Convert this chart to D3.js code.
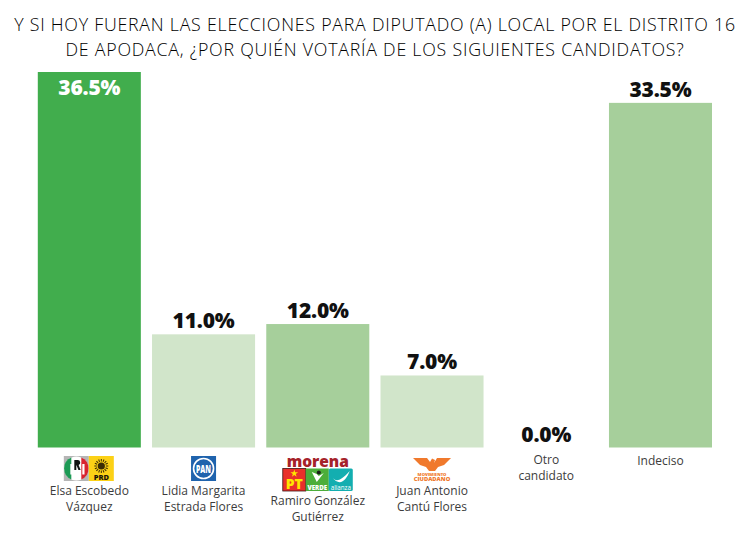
<!DOCTYPE html>
<html lang="es">
<head>
<meta charset="utf-8">
<script src="https://cdn.jsdelivr.net/npm/d3@7/dist/d3.min.js"></script>
<style>
  html, body { margin: 0; padding: 0; background: #fff; }
  svg { display: block; }
  text { font-family: "Open Sans", "Noto Sans", sans-serif; }
</style>
</head>
<body>
<svg id="chart" width="750" height="534"></svg>
<script>
const titleLines = [
  "Y SI HOY FUERAN LAS ELECCIONES PARA DIPUTADO (A) LOCAL POR EL DISTRITO 16",
  "DE APODACA, ¿POR QUIÉN VOTARÍA DE LOS SIGUIENTES CANDIDATOS?"
];
const candidates = ["elsa", "lidia", "ramiro", "juan", "otro", "indeciso"];
const values = [36.5, 11.0, 12.0, 7.0, 0.0, 33.5];
const barColors = ["#41ad4d", "#d1e5ca", "#a6cf9b", "#d1e5ca", "#d1e5ca", "#a6cf9b"];
const nameLines = [
  ["Elsa Escobedo", "Vázquez"],
  ["Lidia Margarita", "Estrada Flores"],
  ["Ramiro González", "Gutiérrez"],
  ["Juan Antonio", "Cantú Flores"],
  ["Otro", "candidato"],
  ["Indeciso"]
];
const nameOffsets = [491, 491, 501, 491, 460, 461];

const svg = d3.select("#chart");
const baseline = 447.5;

const x = d3.scaleBand().domain(candidates).range([32.2, 717.6]).paddingInner(0.098).paddingOuter(0.049);
const y = d3.scaleLinear().domain([0, 36.5]).range([baseline, 72]);

svg.selectAll("text.title").data(titleLines).join("text")
  .attr("class", "title")
  .attr("x", 375).attr("y", (d, i) => 31 + i * 25)
  .attr("text-anchor", "middle")
  .attr("font-size", 17.8)
  .attr("font-weight", 300)
  .attr("letter-spacing", 0.76)
  .attr("fill", "#000")
  .text(d => d);

svg.selectAll("rect.bar").data(candidates).join("rect")
  .attr("class", "bar")
  .attr("x", d => x(d))
  .attr("width", x.bandwidth())
  .attr("y", (d, i) => y(values[i]))
  .attr("height", (d, i) => baseline - y(values[i]))
  .attr("fill", (d, i) => barColors[i]);

svg.selectAll("text.value").data(candidates).join("text")
  .attr("class", "value")
  .attr("x", d => x(d) + x.bandwidth() / 2)
  .attr("y", (d, i) => i === 0 ? y(values[i]) + 23 : y(values[i]) - 6)
  .attr("text-anchor", "middle")
  .attr("font-size", 21)
  .attr("font-weight", 800)
  .attr("letter-spacing", -0.2)
  .attr("fill", (d, i) => i === 0 ? "#fff" : "#111")
  .text((d, i) => values[i].toFixed(1) + "%");

svg.selectAll("text.name").data(candidates).join("text")
  .attr("class", "name")
  .attr("text-anchor", "middle")
  .attr("font-size", 12)
  .attr("fill", "#3c3c3c")
  .attr("transform", (d, i) => `translate(${x(d) + x.bandwidth() / 2},${nameOffsets[i]})`)
  .selectAll("tspan").data((d, i) => nameLines[i]).join("tspan")
  .attr("x", 0).attr("dy", (d, i) => i ? 15.5 : 4)
  .text(d => d);

// Party emblems, each drawn in a group centred under its bar
function emblem(key) {
  return svg.append("g").attr("transform", `translate(${x(key) + x.bandwidth() / 2},456)`);
}
function label(g, str, px, py, size, fill, weight = 800) {
  g.append("text").attr("x", px).attr("y", py).attr("text-anchor", "middle")
    .attr("font-size", size).attr("font-weight", weight).attr("fill", fill).text(str);
}

// PRI + PRD
{
  const g = emblem("elsa");
  g.append("rect").attr("x", -25.5).attr("width", 25).attr("height", 25).attr("fill", "#b5b5b5");
  g.append("circle").attr("cx", -13).attr("cy", 12.5).attr("r", 12).attr("fill", "#fff");
  g.append("path").attr("d", "M-18,1.5 A12,12 0 0 0 -18,23.5 Z").attr("fill", "#1d9a55");
  g.append("path").attr("d", "M-8,1.5 A12,12 0 0 1 -8,23.5 Z").attr("fill", "#d8232f");
  g.append("path").attr("d", "M-19,8 h3 a2.6,2.6 0 0 1 0,5.5 h-1 v5 h-2 Z").attr("fill", "#fff");
  g.append("path").attr("d", "M-15,4 h3.5 a2.6,2.6 0 0 1 0.8,5 l2,5 h-2.2 l-1.9,-4.8 h-0.2 v4.8 h-2 Z").attr("fill", "#111");
  g.append("rect").attr("x", -7).attr("y", 8).attr("width", 2.2).attr("height", 10.5).attr("fill", "#fff");
  g.append("rect").attr("x", -0.5).attr("width", 25).attr("height", 25).attr("fill", "#fcd116");
  const rays = d3.range(16).map(i => i * 22.5);
  g.append("g").selectAll("line").data(rays).join("line")
    .attr("x1", 12).attr("y1", 3).attr("x2", 12).attr("y2", 5.5)
    .attr("stroke", "#3a2c05").attr("stroke-width", 1)
    .attr("transform", d => `rotate(${d} 12 10)`);
  g.append("circle").attr("cx", 12).attr("cy", 10).attr("r", 3.6).attr("fill", "#3a2c05");
  label(g, "PRD", 12, 24, 7.5, "#1c1608");
}

// PAN
{
  const g = emblem("lidia");
  g.append("rect").attr("x", -12.5).attr("width", 25).attr("height", 25).attr("fill", "#1f63ad");
  g.append("circle").attr("cy", 12.5).attr("r", 10).attr("fill", "none").attr("stroke", "#fff").attr("stroke-width", 1.6);
  g.append("text").attr("y", 16.5).attr("text-anchor", "middle").attr("font-size", 11)
    .attr("font-weight", 800).attr("fill", "#fff").attr("textLength", 15).attr("lengthAdjust", "spacingAndGlyphs").text("PAN");
}

// Morena + PT + Verde + Alianza
{
  const g = emblem("ramiro");
  label(g, "morena", 0, 10.5, 15.5, "#a5222a");
  g.append("rect").attr("x", -35).attr("y", 12.5).attr("width", 23).attr("height", 22.5)
    .attr("fill", "#e9302a").attr("stroke", "#3b1212").attr("stroke-width", 0.8);
  g.append("path").attr("d", d3.symbol(d3.symbolStar, 18)()).attr("transform", "translate(-23.5,17.5)").attr("fill", "#ffe600");
  g.append("text").attr("x", -23.5).attr("y", 33).attr("text-anchor", "middle").attr("font-size", 14)
    .attr("font-weight", 800).attr("fill", "#ffe600").text("PT");
  g.append("rect").attr("x", -12).attr("y", 12.5).attr("width", 23).attr("height", 22.5).attr("fill", "#4cae3a");
  g.append("path").attr("d", "M-6,16 L-1,26 L6,17 L1,20 L-1,18 Z").attr("fill", "#fff");
  g.append("circle").attr("cx", 1).attr("cy", 16.5).attr("r", 2).attr("fill", "#1c1c1c");
  label(g, "VERDE", -0.5, 33.5, 6.2, "#fff");
  g.append("rect").attr("x", 11).attr("y", 12.5).attr("width", 24).attr("height", 22.5).attr("rx", 1.5).attr("fill", "#13aeb0");
  g.append("path").attr("d", "M14,21 C18,26 22,26 32,15 C28,25 22,31 14,21 Z").attr("fill", "#fff");
  label(g, "alianza", 23, 33.5, 6.2, "#fff", 400);
}

// Movimiento Ciudadano
{
  const g = emblem("juan");
  const orange = "#f0792c";
  g.append("path").attr("d", "M-19,2 L-5,2 L-2,6 L0,2.5 L3,4 L2,7 L5,2 L19,2 L12,9 L6,11 L3,15 L-3,15 L-6,11 L-12,9 Z").attr("fill", orange);
  label(g, "MOVIMIENTO", 0, 19.5, 4.2, orange);
  label(g, "CIUDADANO", 0, 25, 5.8, orange);
}
</script>
</body>
</html>
